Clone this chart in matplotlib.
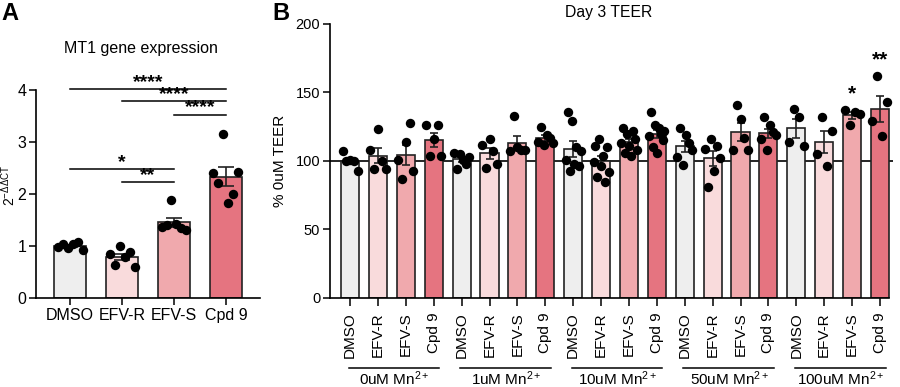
import numpy as np
import matplotlib
matplotlib.use("Agg")
import matplotlib.pyplot as plt

plt.rcParams['font.family'] = ['Liberation Sans', 'DejaVu Sans']
plt.rcParams['mathtext.fontset'] = 'custom'
plt.rcParams['mathtext.rm'] = 'Liberation Sans'
plt.rcParams['mathtext.it'] = 'Liberation Sans:italic'

# ---- data ----
treatments = ['DMSO', 'EFV-R', 'EFV-S', 'Cpd 9']
colors = ['#EEEEEE', '#F9DBDC', '#F0A9AD', '#E57480']

# panel A: MT1 gene expression (2^-ddCT), one list per treatment
mt1_dmso = [0.98, 1.04, 0.96, 1.03, 1.08, 0.93]
mt1_efvr = [0.85, 0.63, 1.01, 0.78, 0.88, 0.60]
mt1_efvs = [1.37, 1.40, 1.89, 1.42, 1.35, 1.30]
mt1_cpd9 = [2.40, 2.21, 3.15, 1.82, 2.00, 2.43]

# comparisons in A: (group1, group2, label)
mt1_sig = [(0, 3, '****'), (1, 3, '****'), (2, 3, '****'),
           (0, 2, '*'), (1, 2, '**')]
mt1_sig_y = [4.02, 3.79, 3.53, 2.48, 2.23]

# panel B: Day 3 TEER (% of 0uM), per Mn2+ concentration
mn_groups = ['0uM Mn$^{2+}$', '1uM Mn$^{2+}$', '10uM Mn$^{2+}$',
             '50uM Mn$^{2+}$', '100uM Mn$^{2+}$']
teer_0 = [[107, 100, 101, 100, 93],
          [108, 94, 123, 100, 94],
          [101, 87, 114, 128, 93],
          [126, 104, 116, 126, 104]]
teer_1 = [[106, 94, 105, 101, 98, 103],
          [112, 95, 116, 107, 98],
          [107, 133, 110, 108, 108],
          [114, 125, 112, 119, 117, 113]]
teer_10 = [[101, 136, 93, 129, 98, 110, 96, 107],
           [99, 111, 88, 116, 96, 104, 85, 110, 92],
           [113, 124, 106, 120, 111, 104, 122, 116, 108],
           [118, 136, 110, 126, 106, 124, 120, 115, 122]]
teer_50 = [[103, 124, 97, 119, 113, 108],
           [109, 81, 116, 93, 111, 102],
           [108, 141, 131, 117, 108],
           [116, 132, 108, 126, 121, 119]]
teer_100 = [[114, 138, 132, 111],
            [105, 132, 96, 122],
            [137, 126, 136, 134],
            [129, 162, 118, 143]]
teer_sig = {18: '*', 19: '**'}   # bar index -> label
teer_sig_y = {18: 149, 19: 174}


def mean_sem(v):
    v = np.asarray(v, float)
    return v.mean(), v.std(ddof=1) / np.sqrt(len(v))


def draw_bars(ax, groups, cols, width, capsize, spread):
    for i, vals in enumerate(groups):
        m, s = mean_sem(vals)
        ax.bar(i, m, width=width, color=cols[i], edgecolor='#222222',
               linewidth=1.2, zorder=2)
        ax.errorbar(i, m, yerr=s, color='#222222', capsize=capsize,
                    capthick=1.2, elinewidth=1.2, zorder=3)
        off = np.linspace(-spread, spread, len(vals))
        ax.scatter(i + off, vals, s=46, color='black', zorder=4,
                   linewidths=0)


fig = plt.figure(figsize=(9, 3.87), dpi=100)

# ---- panel A ----
axA = fig.add_axes([0.04, 0.23, 0.249, 0.537])
draw_bars(axA, [mt1_dmso, mt1_efvr, mt1_efvs, mt1_cpd9], colors,
          0.62, 5.5, 0.24)
axA.set_xlim(-0.66, 3.66)
axA.set_ylim(0, 4)
axA.set_yticks([0, 1, 2, 3, 4])
axA.set_xticks(range(4))
axA.set_xticklabels(treatments, fontsize=11.5)
axA.tick_params(axis='y', labelsize=11.5, length=5, width=1.1, pad=2)
axA.tick_params(axis='x', length=5, width=1.1, pad=2)
for sp in ['top', 'right']:
    axA.spines[sp].set_visible(False)
for sp in ['left', 'bottom']:
    axA.spines[sp].set_linewidth(1.2)
fig.text(0.010, 1 - 185 / 387, '2$^{\\mathrm{-\\Delta\\Delta CT}}$',
         rotation=90, ha='center', va='center', fontsize=10)

for (g1, g2, lab), y in zip(mt1_sig, mt1_sig_y):
    axA.plot([g1, g2], [y, y], color='black', lw=1.1, clip_on=False)
    axA.text((g1 + g2) / 2, y - 0.03, lab, ha='center', va='bottom',
             fontsize=14, fontweight='bold', clip_on=False)

fig.text(0.157, 1 - 48 / 387, 'MT1 gene expression', ha='center',
         va='center', fontsize=11.5)
fig.text(0.002, 0.995, 'A', fontsize=17, fontweight='bold', va='top')

# ---- panel B ----
axB = fig.add_axes([0.3667, 0.23, 0.6256, 0.708])
teer_all = teer_0 + teer_1 + teer_10 + teer_50 + teer_100
axB.axhline(100, color='black', lw=1.2, zorder=1)
draw_bars(axB, teer_all, colors * len(mn_groups), 0.65, 3.2, 0.27)
axB.set_xlim(-0.72, 19.47)
axB.set_ylim(0, 200)
axB.set_yticks([0, 50, 100, 150, 200])
axB.set_xticks(range(len(teer_all)))
axB.set_xticklabels(treatments * len(mn_groups), rotation=90, fontsize=11)
axB.tick_params(axis='y', labelsize=10.5, length=5, width=1.1, pad=2)
axB.tick_params(axis='x', length=6, width=1.1, pad=4)
for sp in ['top', 'right']:
    axB.spines[sp].set_visible(False)
for sp in ['left', 'bottom']:
    axB.spines[sp].set_linewidth(1.2)
axB.spines['bottom'].set_bounds(-0.72, 19.33)
axB.set_ylabel('% 0uM TEER', fontsize=11, labelpad=6)

for i, lab in teer_sig.items():
    axB.text(i, teer_sig_y[i], lab, ha='center', va='center',
             fontsize=15, fontweight='bold', clip_on=False)

trans = axB.get_xaxis_transform()
for k, name in enumerate(mn_groups):
    x0 = 4 * k
    axB.plot([x0 - 0.05, x0 + 3 + 0.2], [-0.255, -0.255], color='black',
             lw=1.1, transform=trans, clip_on=False)
    axB.text(x0 + 1.6, -0.295, name, ha='center', va='center',
             fontsize=11, transform=trans)

fig.text(0.676, 1 - 12 / 387, 'Day 3 TEER', ha='center', va='center',
         fontsize=11.3)
fig.text(0.303, 0.995, 'B', fontsize=17, fontweight='bold', va='top')

fig.savefig('out.png', dpi=100)
